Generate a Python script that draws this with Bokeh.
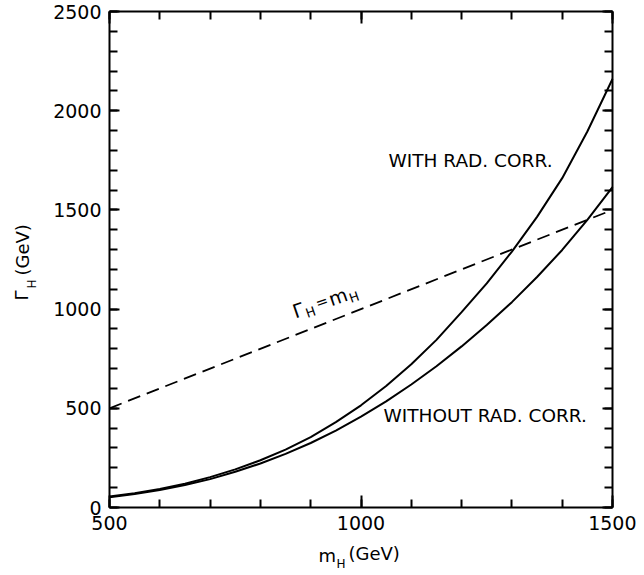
import math
from bokeh.plotting import figure
from bokeh.models import LinearAxis, SingleIntervalTicker, Range1d, Label
from bokeh.embed import file_html
from bokeh.resources import INLINE

# ---- data ----
m_H = [500, 550, 600, 650, 700, 750, 800, 850, 900, 950, 1000,
       1050, 1100, 1150, 1200, 1250, 1300, 1350, 1400, 1450, 1500]
gamma_with = [55, 72, 93, 120, 153, 192, 238, 292, 355, 430, 515,
              612, 722, 845, 985, 1130, 1290, 1465, 1660, 1895, 2160]
gamma_without = [52, 68, 88, 113, 143, 180, 222, 270, 325, 388, 458,
                 535, 620, 712, 812, 920, 1035, 1162, 1298, 1450, 1615]
diag_m = [500, 1500]
diag_gamma = [500, 1500]

x_lim = (500, 1500)
y_lim = (0, 2500)
tick_interval = 500
minor_per_major = 5

FONT = "DejaVu Sans"

# ---- layout (canvas pixels) ----
W, H = 636, 574
BOX_L, BOX_R, BOX_T, BOX_B = 109, 612, 11, 507
sx = (BOX_R - BOX_L) / (x_lim[1] - x_lim[0])
sy = (BOX_B - BOX_T) / (y_lim[1] - y_lim[0])
x_start = x_lim[0] - BOX_L / sx
x_end = x_lim[1] + (W - BOX_R) / sx
y_start = y_lim[0] - (H - BOX_B) / sy
y_end = y_lim[1] + BOX_T / sy
BASE_FIX = 7  # px: raise text so its glyph baseline sits on the anchor


def to_data(px, py):
    return x_lim[0] + (px - BOX_L) / sx, y_lim[0] + (BOX_B - py) / sy


p = figure(width=W, height=H, output_backend="svg", toolbar_location=None,
           x_range=Range1d(x_start, x_end), y_range=Range1d(y_start, y_end),
           min_border=0, x_axis_type=None, y_axis_type=None)
p.grid.visible = False
p.outline_line_color = None
p.background_fill_color = "white"
p.border_fill_color = "white"


def make_axis(loc, bounds, show_labels, major_in):
    ax = LinearAxis(ticker=SingleIntervalTicker(interval=tick_interval,
                                                num_minor_ticks=minor_per_major),
                    fixed_location=loc, bounds=bounds)
    ax.axis_line_color = "black"
    ax.axis_line_width = 2
    ax.major_tick_in = major_in
    ax.major_tick_out = 0
    ax.minor_tick_in = 8
    ax.minor_tick_out = 0
    ax.major_tick_line_width = 2
    ax.minor_tick_line_width = 2
    if show_labels:
        ax.major_label_text_font = FONT
        ax.major_label_text_font_size = "19px"
        ax.major_label_text_color = "black"
        ax.major_label_standoff = 8
    else:
        ax.major_label_text_color = None
        ax.major_label_standoff = 0
    return ax


p.add_layout(make_axis(y_lim[0], x_lim, True, 12), "below")
p.add_layout(make_axis(y_lim[1], x_lim, False, 12), "above")
p.add_layout(make_axis(x_lim[0], y_lim, True, 10), "left")
p.add_layout(make_axis(x_lim[1], y_lim, False, 10), "right")

# curves
p.line(m_H, gamma_with, line_color="black", line_width=2)
p.line(m_H, gamma_without, line_color="black", line_width=2)
p.line(diag_m, diag_gamma, line_color="black", line_width=1.8, line_dash="13 7")


def lab(px, py, text, size, xo=0, yo=0, angle=0):
    x, y = to_data(px, py)
    a = math.radians(angle)
    xo = xo - BASE_FIX * math.sin(a)
    yo = yo + BASE_FIX * math.cos(a)
    p.add_layout(Label(x=x, y=y, text=text, x_offset=xo, y_offset=yo,
                       angle=angle, angle_units="deg",
                       text_font=FONT, text_font_size=size,
                       text_color="black", text_align="left",
                       text_baseline="alphabetic"))


# curve labels
lab(388, 167, "WITH RAD. CORR.", "18.5px")
lab(383, 422, "WITHOUT RAD. CORR.", "18.5px")

# Gamma_H = m_H label along the dashed line
ang = 19
th = math.radians(ang)
pieces = [("Γ", 0, 0, "19px"), ("H", 11.5, -6, "13px"), ("=", 24, 0, "15px"),
          ("m", 38, 0, "19px"), ("H", 57.5, -6, "13px")]
for txt, t, n, sz in pieces:
    xo = t * math.cos(th) - n * math.sin(th)
    yo = t * math.sin(th) + n * math.cos(th)
    lab(295, 318, txt, sz, xo, yo, angle=ang)

# x axis title  m_H (GeV)
lab(318, 562, "m", "18px")
lab(336, 570, "H", "12px")
lab(348, 560, "(GeV)", "18px")

# y axis title  Γ_H (GeV)
lab(28, 300, "Γ", "18px", angle=90)
lab(38, 288, "H", "12px", angle=90)
lab(29, 275, "(GeV)", "18px", angle=90)

open("out.html", "w").write(file_html(p, INLINE))
